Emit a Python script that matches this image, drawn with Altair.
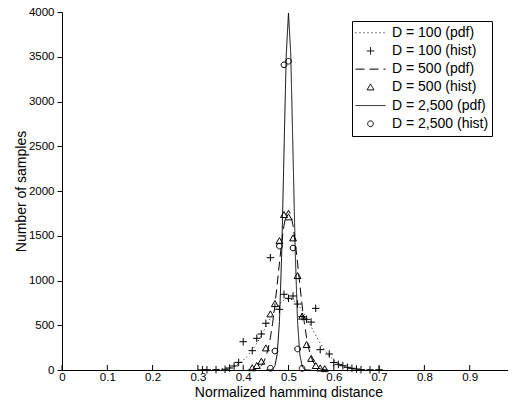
import altair as alt
import pandas as pd

series = ["D = 100 (pdf)", "D = 100 (hist)", "D = 500 (pdf)", "D = 500 (hist)",
          "D = 2,500 (pdf)", "D = 2,500 (hist)"]

# pdf curves
pdf100_x = [0.30, 0.31, 0.32, 0.33, 0.34, 0.35, 0.36, 0.37, 0.38, 0.39, 0.40,
            0.41, 0.42, 0.43, 0.44, 0.45, 0.46, 0.47, 0.48, 0.49, 0.50,
            0.51, 0.52, 0.53, 0.54, 0.55, 0.56, 0.57, 0.58, 0.59, 0.60,
            0.61, 0.62, 0.63, 0.64, 0.65, 0.66, 0.67, 0.68, 0.69, 0.70]
pdf100_y = [0, 0.5, 1, 2.5, 5, 9, 16, 27, 45, 71, 108, 158, 222, 299, 388, 484,
            579, 667, 737, 782, 798, 782, 737, 667, 579, 484, 388, 299, 222, 158,
            108, 71, 45, 27, 16, 9, 5, 2.5, 1, 0.5, 0]

pdf500_x = [0.410, 0.415, 0.420, 0.425, 0.430, 0.435, 0.440, 0.445, 0.450, 0.455,
            0.460, 0.465, 0.470, 0.475, 0.480, 0.485, 0.490, 0.495, 0.500,
            0.505, 0.510, 0.515, 0.520, 0.525, 0.530, 0.535, 0.540, 0.545,
            0.550, 0.555, 0.560, 0.565, 0.570, 0.575, 0.580, 0.585, 0.590]
pdf500_y = [0, 1, 3, 6, 13, 26, 49, 87, 146, 235, 360, 524, 725, 955, 1196, 1425,
            1614, 1740, 1784, 1740, 1614, 1425, 1196, 955, 725, 524, 360, 235, 146,
            87, 49, 26, 13, 6, 3, 1, 0]

pdf2500_x = [0.450, 0.455, 0.460, 0.465, 0.470, 0.475, 0.480, 0.485, 0.490, 0.495,
             0.500, 0.505, 0.510, 0.515, 0.520, 0.525, 0.530, 0.535, 0.540, 0.545,
             0.550]
pdf2500_y = [0, 0, 1, 9, 44, 175, 540, 1295, 2420, 3521, 3989, 3521, 2420, 1295,
             540, 175, 44, 9, 1, 0, 0]

# histogram markers
hist100_x = [0.31, 0.32, 0.34, 0.36, 0.37, 0.38, 0.39, 0.40, 0.42, 0.43, 0.44,
             0.45, 0.46, 0.48, 0.49, 0.50, 0.51, 0.52, 0.53, 0.54, 0.55, 0.56,
             0.57, 0.59, 0.60, 0.61, 0.62, 0.63, 0.64, 0.65, 0.66, 0.68, 0.70]
hist100_y = [2, 3, 4, 8, 22, 45, 85, 316, 216, 354, 402, 522, 1255, 678, 846, 801,
             827, 737, 596, 566, 535, 689, 227, 179, 84, 63, 48, 30, 19, 11, 4, 2, 3]

hist500_x = [0.42, 0.43, 0.44, 0.45, 0.46, 0.47, 0.48, 0.49, 0.50, 0.51, 0.52,
             0.53, 0.54, 0.55, 0.56, 0.57, 0.58]
hist500_y = [20, 45, 93, 242, 622, 737, 1441, 1732, 1706, 1471, 1050, 596, 279,
             125, 45, 18, 10]

hist2500_x = [0.46, 0.47, 0.48, 0.49, 0.50, 0.51, 0.52, 0.53]
hist2500_y = [20, 212, 1385, 3410, 3450, 1363, 235, 18]

x_ticks = [0, 0.1, 0.2, 0.3, 0.4, 0.5, 0.6, 0.7, 0.8, 0.9, 1.0]
y_ticks = [0, 500, 1000, 1500, 2000, 2500, 3000, 3500, 4000]

pdf_df = pd.concat([
    pd.DataFrame({"x": pdf100_x, "y": pdf100_y, "series": series[0]}),
    pd.DataFrame({"x": pdf500_x, "y": pdf500_y, "series": series[2]}),
    pd.DataFrame({"x": pdf2500_x, "y": pdf2500_y, "series": series[4]}),
], ignore_index=True)
hist_df = pd.concat([
    pd.DataFrame({"x": hist100_x, "y": hist100_y, "series": series[1]}),
    pd.DataFrame({"x": hist500_x, "y": hist500_y, "series": series[3]}),
    pd.DataFrame({"x": hist2500_x, "y": hist2500_y, "series": series[5]}),
], ignore_index=True)
tick_df = pd.DataFrame({"t": x_ticks})

LINE = "M-1,0H1"
CROSS = "M-0.25,0H0.25M0,-0.25V0.25"
TRI = "M0,-0.23L0.23,0.17L-0.23,0.17Z"
CIRC = "M0.19,0A0.19,0.19,0,1,1,-0.19,0A0.19,0.19,0,1,1,0.19,0Z"
shape_range = [LINE, CROSS, LINE, TRI, LINE, CIRC]
dash_range = [[1, 3], [1, 0], [9, 5], [1, 0], [1, 0], [1, 0]]

FONT = "Liberation Sans"

xscale = alt.Scale(domain=[0, 1], nice=False, zero=False)
yscale = alt.Scale(domain=[0, 4000], nice=False)

legend = alt.Legend(
    title=None, orient="none", legendX=290, legendY=9, padding=3,
    strokeColor="black", fillColor="white", cornerRadius=0,
    labelFont=FONT, labelFontSize=14, labelColor="black",
    symbolSize=900, clipHeight=17.5, rowPadding=0.2, labelOffset=6,
    symbolStrokeColor="black", symbolStrokeWidth=1,
    symbolFillColor="transparent",
    labelExpr="datum.label + '     '",
)

xaxis = alt.Axis(values=x_ticks, format="~g", ticks=False, tickSize=0,
                 labelPadding=1, title="Normalized hamming distance",
                 titleY=26, titleBaseline="alphabetic",
                 grid=False, labelFlush=False, labelOverlap=False)
yaxis = alt.Axis(values=y_ticks, format="d", tickSize=5, labelPadding=3,
                 title="Number of samples", titlePadding=0, grid=False)

lines = alt.Chart(pdf_df).mark_line(color="black", strokeWidth=1).encode(
    x=alt.X("x:Q", scale=xscale, axis=xaxis),
    y=alt.Y("y:Q", scale=yscale, axis=yaxis),
    strokeDash=alt.StrokeDash("series:N", sort=series,
                              scale=alt.Scale(domain=series, range=dash_range),
                              legend=legend),
)

points = alt.Chart(hist_df).mark_point(filled=False, size=900, color="black",
                                       opacity=1, strokeWidth=1).encode(
    x=alt.X("x:Q", scale=xscale),
    y=alt.Y("y:Q", scale=yscale),
    shape=alt.Shape("series:N", sort=series,
                    scale=alt.Scale(domain=series, range=shape_range),
                    legend=legend),
)

ticks = alt.Chart(tick_df).mark_rule(color="black", strokeWidth=1).encode(
    x=alt.X("t:Q", scale=xscale),
    y=alt.value(358),
    y2=alt.value(353),
)

chart = alt.layer(lines, points, ticks).properties(
    width=453, height=358,
    autosize=alt.AutoSizeParams(type="none"),
    padding={"left": 54, "top": 4, "right": -7, "bottom": 28},
).configure_view(stroke=None).configure_axis(
    labelFont=FONT, titleFont=FONT, labelFontSize=11.5, titleFontSize=14,
    titleFontWeight="normal", labelColor="black", titleColor="black",
    domainColor="black", tickColor="black", domainWidth=1,
).configure_legend(
    labelFont=FONT,
)

chart.save("out.html", embed_options={"renderer": "svg", "actions": False})
